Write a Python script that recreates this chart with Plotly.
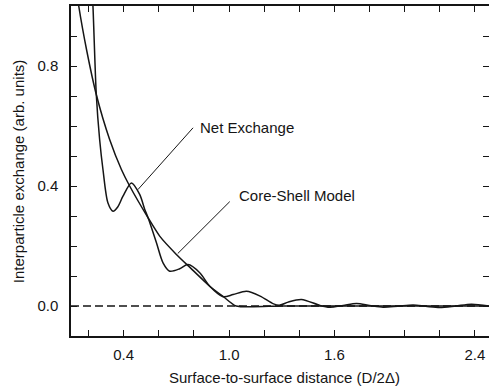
import plotly.graph_objects as go

# Data
net_x = [0.212, 0.225, 0.244, 0.263, 0.282, 0.31, 0.339, 0.366, 0.396, 0.444, 0.491, 0.52, 0.539,
         0.587, 0.624, 0.662, 0.719, 0.766, 0.833, 0.89, 0.966, 1.023, 1.099, 1.177, 1.253, 1.29,
         1.336, 1.412, 1.517, 1.574, 1.65, 1.726, 1.80, 1.877, 1.96, 2.048, 2.12, 2.2, 2.29, 2.38, 2.48]
net_y = [1.15, 1.0, 0.705, 0.555, 0.455, 0.344, 0.316, 0.33, 0.366, 0.41, 0.372, 0.322, 0.294,
         0.21, 0.144, 0.116, 0.124, 0.138, 0.111, 0.066, 0.031, 0.038, 0.049, 0.033, 0.007, 0.003,
         0.013, 0.022, 0.002, -0.004, 0.002, 0.008, 0.002, -0.004, -0.001, 0.003, -0.001, -0.005, 0.0, 0.006, 0.0]

cs_x = [0.13, 0.144, 0.19, 0.244, 0.32, 0.387, 0.434, 0.539, 0.605, 0.70, 0.78, 0.89, 0.97, 1.04, 1.3, 1.8, 2.48]
cs_y = [1.06, 1.0, 0.85, 0.705, 0.555, 0.455, 0.40, 0.294, 0.233, 0.172, 0.127, 0.066, 0.030, 0.0, 0.0, 0.0, 0.0]

x_tickvals = [0.2, 0.4, 0.6, 0.8, 1.0, 1.2, 1.4, 1.6, 1.8, 2.0, 2.2, 2.4]
x_ticktext = ["", "0.4", "", "", "1.0", "", "", "1.6", "", "", "", "2.4"]
y_tickvals = [-0.1, 0.0, 0.1, 0.2, 0.3, 0.4, 0.5, 0.6, 0.7, 0.8, 0.9]
y_ticktext = ["", "0.0", "", "", "", "0.4", "", "", "", "0.8", ""]

FONT = "Arial, Liberation Sans, sans-serif"
INK = "#151515"
XR = [0.1, 2.48]
YR = [-0.1, 1.0]

fig = go.Figure()
# dashed zero reference line
fig.add_shape(type="line", x0=XR[0], x1=XR[1], y0=0, y1=0, xref="x", yref="y",
              line=dict(color=INK, width=1.3, dash="8px,4px"), layer="below")

fig.add_trace(go.Scatter(x=cs_x, y=cs_y, mode="lines", name="Core-Shell Model",
                         line=dict(color=INK, width=1.5, shape="spline", smoothing=0.6),
                         showlegend=False, cliponaxis=True))
fig.add_trace(go.Scatter(x=net_x, y=net_y, mode="lines", name="Net Exchange",
                         line=dict(color=INK, width=1.5, shape="spline", smoothing=0.8),
                         showlegend=False, cliponaxis=True))
# invisible trace to host right-side ticks
fig.add_trace(go.Scatter(x=[XR[0]], y=[0], yaxis="y2", mode="markers",
                         marker=dict(opacity=0), showlegend=False, hoverinfo="skip"))

# pointer lines
fig.add_shape(type="line", x0=0.795, y0=0.594, x1=0.481, y1=0.388, xref="x", yref="y",
              line=dict(color=INK, width=1))
fig.add_shape(type="line", x0=1.004, y0=0.348, x1=0.708, y1=0.175, xref="x", yref="y",
              line=dict(color=INK, width=1))

fig.add_annotation(x=0.822, y=0.595, xref="x", yref="y", text="Net Exchange", showarrow=False,
                   xanchor="left", yanchor="middle", font=dict(family=FONT, size=15, color=INK))
fig.add_annotation(x=1.044, y=0.368, xref="x", yref="y", text="Core-Shell Model", showarrow=False,
                   xanchor="left", yanchor="middle", font=dict(family=FONT, size=15, color=INK))

# axis titles
fig.add_annotation(x=0.51, y=-0.127, xref="paper", yref="paper",
                   text="Surface-to-surface distance (D/2Δ)", showarrow=False,
                   xanchor="center", yanchor="middle", font=dict(family=FONT, size=15, color=INK))
fig.add_annotation(x=-0.124, y=0.497, xref="paper", yref="paper",
                   text="Interparticle exchange (arb. units)", showarrow=False, textangle=-90,
                   xanchor="center", yanchor="middle", font=dict(family=FONT, size=15, color=INK))

fig.update_layout(
    width=489, height=387,
    margin=dict(l=71, r=0, t=6, b=51, autoexpand=False),
    paper_bgcolor="white", plot_bgcolor="white",
    font=dict(family=FONT, size=15, color=INK),
    xaxis=dict(range=XR, tickmode="array", tickvals=x_tickvals, ticktext=x_ticktext,
               ticks="inside", ticklen=6, tickwidth=1.3, tickcolor=INK,
               showline=True, linecolor=INK, linewidth=1.5, mirror="ticks",
               showgrid=False, zeroline=False, ticklabelstandoff=4, automargin=False),
    yaxis=dict(range=YR, tickmode="array", tickvals=y_tickvals, ticktext=y_ticktext,
               ticks="inside", ticklen=6, tickwidth=1.3, tickcolor=INK,
               showline=True, linecolor=INK, linewidth=1.5,
               showgrid=False, zeroline=False, ticklabelstandoff=8, automargin=False),
    yaxis2=dict(range=YR, overlaying="y", side="right", tickmode="array", tickvals=y_tickvals,
                ticks="inside", ticklen=6, tickwidth=1.3, tickcolor=INK,
                showticklabels=False, showline=False, showgrid=False, zeroline=False,
                automargin=False),
)

fig.write_html("out.html", config={"displayModeBar": False},
               post_script="document.body.style.margin='0';document.body.style.overflow='hidden';")
